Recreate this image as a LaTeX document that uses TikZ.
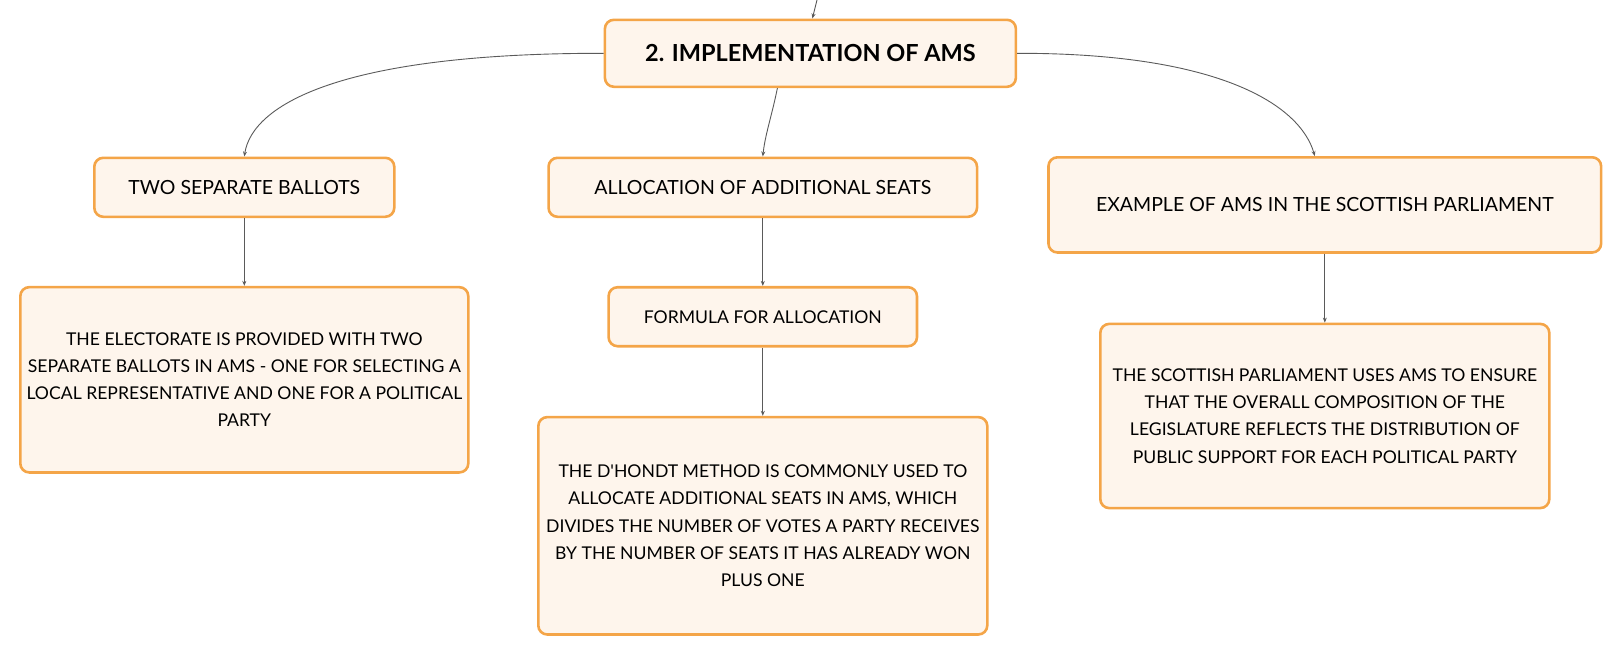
\documentclass[tikz,border=0pt]{standalone}
\usepackage{fontspec}
\setmainfont{Lato}
\usetikzlibrary{arrows.meta}

\definecolor{boxfill}{HTML}{FEF5EC}
\definecolor{boxline}{HTML}{F4A548}
\definecolor{linkgray}{HTML}{5A5A5A}

\tikzset{
	topic/.style={draw=boxline, fill=boxfill, line width=2.6pt, rounded corners=9pt,
		align=center, inner sep=0pt, font=\fontsize{19.5}{27}\selectfont},
	leaf/.style={topic, font=\fontsize{17.6}{27.2}\selectfont},
	maintopic/.style={topic, font=\fontsize{23.5}{28}\selectfont\bfseries},
	link/.style={draw=linkgray, line width=0.9pt, -{Stealth[length=5pt,width=4pt]}},
}

\begin{document}
\begin{tikzpicture}[x=1pt, y=-1pt]
	\useasboundingbox (0,0) rectangle (1623,656);

	\node[maintopic, minimum width=411pt, minimum height=67pt] (ams) at (810.4,53.3) {2. IMPLEMENTATION OF AMS};

	\node[topic, minimum width=300pt, minimum height=59pt] (ballots) at (244.3,187.3) {TWO SEPARATE BALLOTS};
	\node[topic, minimum width=428.5pt, minimum height=59pt] (alloc) at (762.8,187.3) {ALLOCATION OF ADDITIONAL SEATS};
	\node[topic, minimum width=552.7pt, minimum height=95.2pt] (example) at (1324.8,204.9) {EXAMPLE OF AMS IN THE SCOTTISH PARLIAMENT};

	\node[leaf, minimum width=448pt, minimum height=185.3pt] (electorate) at (244.3,379.8)
		{THE ELECTORATE IS PROVIDED WITH TWO\\SEPARATE BALLOTS IN AMS - ONE FOR SELECTING A\\LOCAL REPRESENTATIVE AND ONE FOR A POLITICAL\\PARTY};
	\node[leaf, minimum width=308.4pt, minimum height=59pt] (formula) at (762.8,316.7) {FORMULA FOR ALLOCATION};
	\node[leaf, minimum width=449pt, minimum height=217.4pt] (dhondt) at (762.8,525.8)
		{THE D\textquotesingle HONDT METHOD IS COMMONLY USED TO\\ALLOCATE ADDITIONAL SEATS IN AMS, WHICH\\DIVIDES THE NUMBER OF VOTES A PARTY RECEIVES\\BY THE NUMBER OF SEATS IT HAS ALREADY WON\\PLUS ONE};
	\node[leaf, minimum width=449pt, minimum height=184.2pt] (scottish) at (1324.8,416)
		{THE SCOTTISH PARLIAMENT USES AMS TO ENSURE\\THAT THE OVERALL COMPOSITION OF THE\\LEGISLATURE REFLECTS THE DISTRIBUTION OF\\PUBLIC SUPPORT FOR EACH POLITICAL PARTY};

	% incoming link from the parent topic
	\coordinate (parent) at (817,0);
	\draw[link] (parent) .. controls (815,8) .. ([xshift=2pt]ams.north);

	% curved links to the subtopics
	\draw[link] (ams.west) .. controls (340,53) and (252,105) .. (ballots.north);
	\draw[link] ([xshift=-33pt]ams.south) .. controls (772,115) and (765,135) .. (alloc.north);
	\draw[link] (ams.east) .. controls (1220,53) and (1300,105) .. ([xshift=-10pt]example.north);

	% straight links
	\draw[link] (ballots.south) -- (electorate.north);
	\draw[link] (alloc.south) -- (formula.north);
	\draw[link] (formula.south) -- (dhondt.north);
	\draw[link] (example.south) -- (scottish.north);
\end{tikzpicture}
\end{document}
